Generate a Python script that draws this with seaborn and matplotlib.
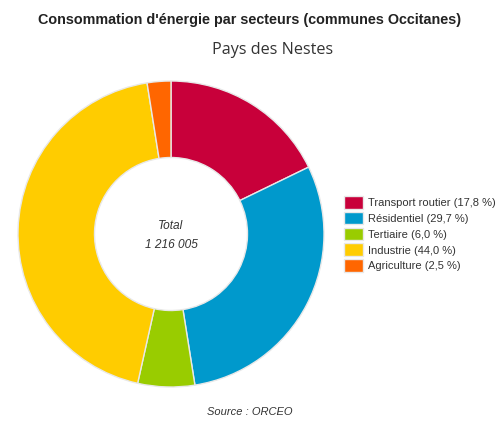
import matplotlib
matplotlib.use("Agg")
import matplotlib.pyplot as plt
import seaborn as sns

# data
secteurs = ["Transport routier", "Résidentiel", "Tertiaire", "Industrie", "Agriculture"]
parts = [17.8, 29.7, 6.0, 44.0, 2.5]
couleurs = ["#C8003A", "#0099CC", "#99CC00", "#FFCC00", "#FF6600"]
total_label = "1 216 005"

sns.set_theme(style="white")
plt.rcParams['font.family'] = ['Liberation Sans', 'DejaVu Sans']

fig = plt.figure(figsize=(4.99, 4.21), dpi=100)
ax = fig.add_axes([18 / 499, 34 / 421, 306 / 499, 306 / 421])

wedges, _ = ax.pie(parts, colors=sns.color_palette(couleurs), startangle=90,
                   counterclock=False, radius=1.0,
                   wedgeprops=dict(width=0.5, edgecolor="#e8e8e8", linewidth=1))
ax.set_xlim(-1, 1)
ax.set_ylim(-1, 1)
ax.set_aspect("equal")
ax.axis("off")

# center label
ax.text(0, 0.055, "Total", ha="center", va="center", style="italic",
        fontsize=8.6, color="#333333")
ax.text(0, -0.075, total_label, ha="center", va="center", style="italic",
        fontsize=8.6, color="#333333")

# legend
labels = [f"{s} ({p:.1f} %)".replace(".", ",") for s, p in zip(secteurs, parts)]
leg = fig.legend(wedges, labels, loc="upper left",
                 bbox_to_anchor=(343 / 499, 1 - 195 / 421),
                 fontsize=8.05, frameon=False,
                 handlelength=1.7, handleheight=1.35, handletextpad=0.45,
                 labelspacing=0.29, borderpad=0.1, borderaxespad=0)
for t in leg.get_texts():
    t.set_color("#333333")

# titles
fig.text(0.5, 1 - 20 / 421, "Consommation d'énergie par secteurs (communes Occitanes)",
         ha="center", va="center", fontsize=10.4, fontweight="bold", color="#222222")
fig.text(273 / 499, 1 - 50 / 421, "Pays des Nestes", ha="center", va="center",
         fontsize=11.6, color="#333333", family=["Open Sans", "DejaVu Sans"])
fig.text(0.5, 1 - 412 / 421, "Source : ORCEO", ha="center", va="center",
         fontsize=8, style="italic", color="#333333")

fig.savefig("out.png", dpi=100)
